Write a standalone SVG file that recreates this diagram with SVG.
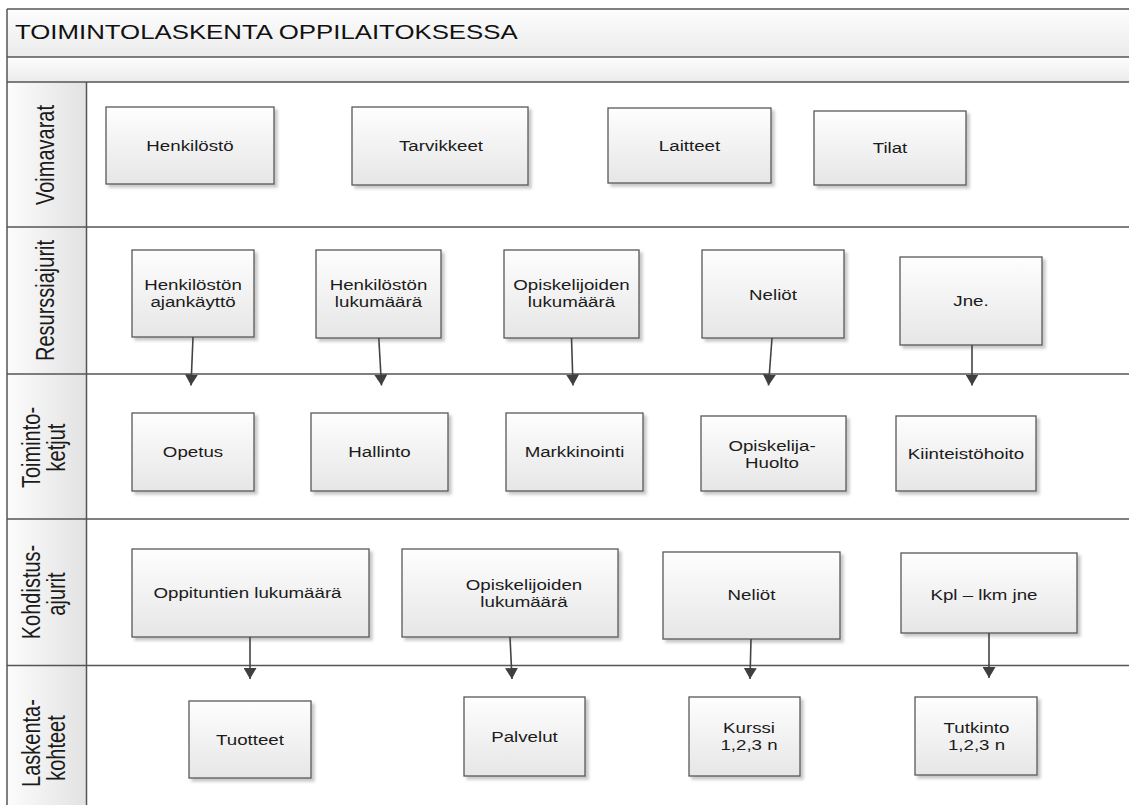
<svg xmlns="http://www.w3.org/2000/svg" width="1129" height="805" viewBox="0 0 1129 805">
  <defs>
    <linearGradient id="bandFill" x1="0" y1="0" x2="0" y2="1">
      <stop offset="0" stop-color="#fdfdfd"/>
      <stop offset="1" stop-color="#ebebeb"/>
    </linearGradient>
    <linearGradient id="laneHeadFill" x1="0" y1="0" x2="1" y2="0">
      <stop offset="0" stop-color="#fcfcfc"/>
      <stop offset="1" stop-color="#e2e2e2"/>
    </linearGradient>
    <linearGradient id="nodeFill" x1="0" y1="0" x2="0" y2="1">
      <stop offset="0" stop-color="#fefefe"/>
      <stop offset="1" stop-color="#e6e6e6"/>
    </linearGradient>
    <filter id="shadow" x="-10%" y="-10%" width="130%" height="130%">
      <feDropShadow dx="3" dy="3" stdDeviation="1.4" flood-color="#000" flood-opacity="0.22"/>
    </filter>
    <marker id="arrow" viewBox="0 0 11 13" refX="11" refY="6.5" markerWidth="11" markerHeight="13" markerUnits="userSpaceOnUse" orient="auto">
      <path d="M0,0 L11,6.5 L0,13 Z" fill="#3f3f3f"/>
    </marker>
  </defs>
  <style>
    .frame { stroke: #555; stroke-width: 1.5; fill: none; }
    .node rect { fill: url(#nodeFill); stroke: #585858; stroke-width: 1.3; filter: url(#shadow); }
    .nt { font-family: "Liberation Sans", Arial, sans-serif; font-size: 14.5px; fill: #1b1b1b; text-anchor: middle; }
    .lt { font-family: "Liberation Sans", Arial, sans-serif; font-size: 20px; fill: #1b1b1b; text-anchor: middle; }
    .title { font-family: "Liberation Sans", Arial, sans-serif; font-size: 20px; fill: #111; }
    .conn { stroke: #444; stroke-width: 1.6; fill: none; marker-end: url(#arrow); }
  </style>

  <!-- page background -->
  <rect x="0" y="0" width="1129" height="805" fill="#ffffff"/>

  <!-- pool header and sub-header bands -->
  <g id="pool">
    <rect x="7" y="9" width="1130" height="48" fill="url(#bandFill)"/>
    <rect x="7" y="57" width="1130" height="25" fill="url(#bandFill)"/>
    <rect x="7" y="82" width="79.5" height="730" fill="url(#laneHeadFill)"/>
    <text class="title" transform="translate(15,39) scale(1.29,1)">TOIMINTOLASKENTA OPPILAITOKSESSA</text>

    <!-- frame and lane separators -->
    <path class="frame" d="M7,9 H1129 M7,57 H1129 M7,82 H1129 M7,227 H1129 M7,374 H1129 M7,519 H1129 M7,665.5 H1129 M7,9 V805 M86.5,82 V805"/>
  </g>

  <!-- lane captions -->
  <g id="lane-voimavarat">
    <text class="lt" transform="translate(54,155) scale(1.3,1) rotate(-90)">Voimavarat</text>
  </g>
  <g id="lane-resurssiajurit">
    <text class="lt" transform="translate(54,300.5) scale(1.3,1) rotate(-90)">Resurssiajurit</text>
  </g>
  <g id="lane-toimintoketjut">
    <text class="lt" transform="translate(40,447.5) scale(1.3,1) rotate(-90)">Toiminto-</text>
    <text class="lt" transform="translate(65,447.5) scale(1.3,1) rotate(-90)">ketjut</text>
  </g>
  <g id="lane-kohdistusajurit">
    <text class="lt" transform="translate(40,592) scale(1.3,1) rotate(-90)">Kohdistus-</text>
    <text class="lt" transform="translate(65,594) scale(1.3,1) rotate(-90)">ajurit</text>
  </g>
  <g id="lane-laskentakohteet">
    <text class="lt" transform="translate(40,743) scale(1.3,1) rotate(-90)">Laskenta-</text>
    <text class="lt" transform="translate(65,748) scale(1.3,1) rotate(-90)">kohteet</text>
  </g>

  <!-- Voimavarat -->
  <g id="n-henkilosto" class="node">
    <rect x="106" y="107" width="168" height="77"/>
    <text class="nt" transform="translate(190,150.5) scale(1.29,1)">Henkilöstö</text>
  </g>
  <g id="n-tarvikkeet" class="node">
    <rect x="352" y="107" width="176" height="78"/>
    <text class="nt" transform="translate(441,151) scale(1.29,1)">Tarvikkeet</text>
  </g>
  <g id="n-laitteet" class="node">
    <rect x="608" y="108" width="163" height="75"/>
    <text class="nt" transform="translate(689.5,150.5) scale(1.29,1)">Laitteet</text>
  </g>
  <g id="n-tilat" class="node">
    <rect x="814" y="111" width="152" height="74"/>
    <text class="nt" transform="translate(890,153) scale(1.29,1)">Tilat</text>
  </g>

  <!-- Resurssiajurit -->
  <g id="n-ajankaytto" class="node">
    <rect x="132" y="250" width="122" height="87"/>
    <text class="nt" transform="translate(193,290) scale(1.29,1)"><tspan x="0" y="0">Henkilöstön</tspan><tspan x="0" y="17">ajankäyttö</tspan></text>
  </g>
  <g id="n-henk-lukumaara" class="node">
    <rect x="316" y="250" width="125" height="88"/>
    <text class="nt" transform="translate(378.5,290) scale(1.29,1)"><tspan x="0" y="0">Henkilöstön</tspan><tspan x="0" y="17">lukumäärä</tspan></text>
  </g>
  <g id="n-opisk-lukumaara" class="node">
    <rect x="504" y="250" width="135" height="88"/>
    <text class="nt" transform="translate(571.5,290) scale(1.29,1)"><tspan x="0" y="0">Opiskelijoiden</tspan><tspan x="0" y="17">lukumäärä</tspan></text>
  </g>
  <g id="n-neliot" class="node">
    <rect x="702" y="250" width="142" height="88"/>
    <text class="nt" transform="translate(773,299.5) scale(1.29,1)">Neliöt</text>
  </g>
  <g id="n-jne" class="node">
    <rect x="900" y="257" width="142" height="88"/>
    <text class="nt" transform="translate(971,306) scale(1.29,1)">Jne.</text>
  </g>

  <!-- Toimintoketjut -->
  <g id="n-opetus" class="node">
    <rect x="132" y="413" width="122" height="78"/>
    <text class="nt" transform="translate(193,457) scale(1.29,1)">Opetus</text>
  </g>
  <g id="n-hallinto" class="node">
    <rect x="311" y="413" width="137" height="78"/>
    <text class="nt" transform="translate(379.5,457) scale(1.29,1)">Hallinto</text>
  </g>
  <g id="n-markkinointi" class="node">
    <rect x="506" y="413" width="137" height="78"/>
    <text class="nt" transform="translate(574.5,457) scale(1.29,1)">Markkinointi</text>
  </g>
  <g id="n-opiskelijahuolto" class="node">
    <rect x="701" y="416" width="145" height="75"/>
    <text class="nt" transform="translate(772,451) scale(1.29,1)"><tspan x="0" y="0">Opiskelija-</tspan><tspan x="0" y="17">Huolto</tspan></text>
  </g>
  <g id="n-kiinteistohoito" class="node">
    <rect x="896" y="416" width="140" height="75"/>
    <text class="nt" transform="translate(966,459) scale(1.29,1)">Kiinteistöhoito</text>
  </g>

  <!-- Kohdistusajurit -->
  <g id="n-oppitunnit" class="node">
    <rect x="132" y="549" width="237" height="88"/>
    <text class="nt" transform="translate(247.5,598) scale(1.29,1)">Oppituntien lukumäärä</text>
  </g>
  <g id="n-opisk-lukumaara-2" class="node">
    <rect x="402" y="549" width="216" height="88"/>
    <text class="nt" transform="translate(524,590) scale(1.29,1)"><tspan x="0" y="0">Opiskelijoiden</tspan><tspan x="0" y="17">lukumäärä</tspan></text>
  </g>
  <g id="n-neliot-2" class="node">
    <rect x="663" y="552" width="177" height="87"/>
    <text class="nt" transform="translate(751.5,599.5) scale(1.29,1)">Neliöt</text>
  </g>
  <g id="n-kpl" class="node">
    <rect x="901" y="553" width="176" height="80"/>
    <text class="nt" transform="translate(984,599.5) scale(1.29,1)">Kpl – lkm jne</text>
  </g>

  <!-- Laskentakohteet -->
  <g id="n-tuotteet" class="node">
    <rect x="189" y="701" width="122" height="77"/>
    <text class="nt" transform="translate(250,745) scale(1.29,1)">Tuotteet</text>
  </g>
  <g id="n-palvelut" class="node">
    <rect x="464" y="697" width="121" height="79"/>
    <text class="nt" transform="translate(524.5,741.5) scale(1.29,1)">Palvelut</text>
  </g>
  <g id="n-kurssi" class="node">
    <rect x="689" y="697" width="111" height="79"/>
    <text class="nt" transform="translate(749,733) scale(1.29,1)"><tspan x="0" y="0">Kurssi</tspan><tspan x="0" y="17">1,2,3 n</tspan></text>
  </g>
  <g id="n-tutkinto" class="node">
    <rect x="915" y="697" width="122" height="78"/>
    <text class="nt" transform="translate(976.5,733) scale(1.29,1)"><tspan x="0" y="0">Tutkinto</tspan><tspan x="0" y="17">1,2,3 n</tspan></text>
  </g>

  <!-- connectors -->
  <g id="connectors">
    <line class="conn" x1="193" y1="337" x2="191" y2="385.5"/>
    <line class="conn" x1="378.8" y1="338" x2="381.5" y2="385.5"/>
    <line class="conn" x1="571.5" y1="338" x2="573" y2="385.5"/>
    <line class="conn" x1="772" y1="338" x2="768.5" y2="385.5"/>
    <line class="conn" x1="972" y1="345" x2="972" y2="385.5"/>
    <line class="conn" x1="250" y1="637" x2="250" y2="679"/>
    <line class="conn" x1="510" y1="637" x2="512" y2="679"/>
    <line class="conn" x1="751" y1="639" x2="750" y2="679"/>
    <line class="conn" x1="989" y1="633" x2="989" y2="678"/>
  </g>
</svg>
